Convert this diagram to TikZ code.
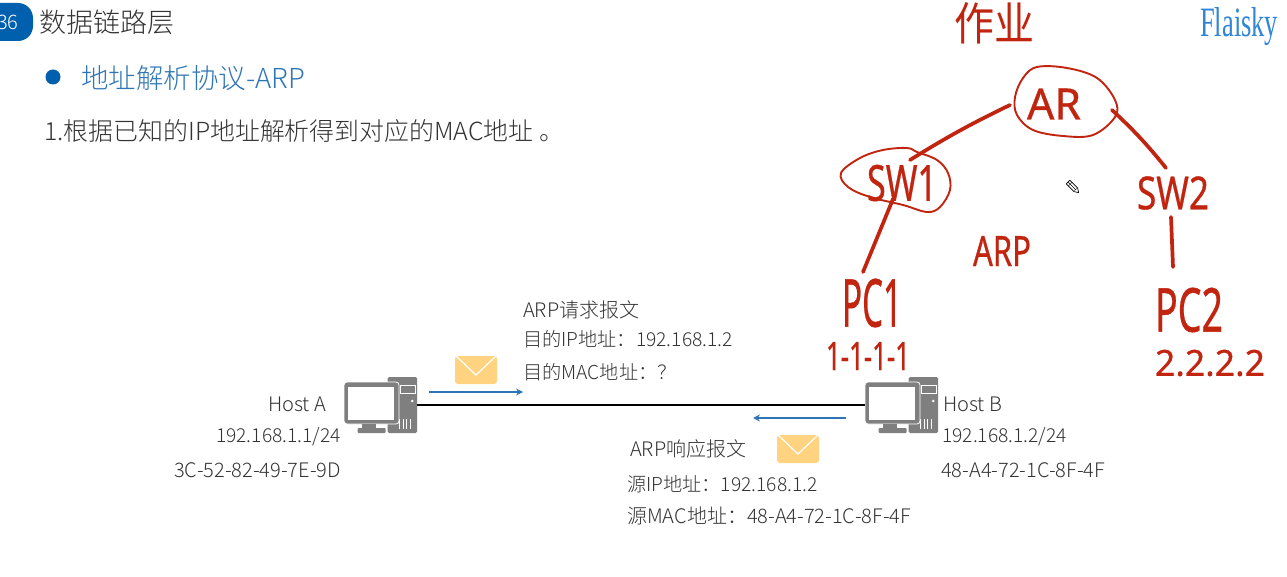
\documentclass[tikz,border=0pt]{standalone}
\usepackage{fontspec}
\setmainfont{Noto Sans CJK SC}[UprightFont={* Light}]
\newfontfamily\handfont{Noto Sans}[FakeBold=0.7]
\newfontfamily\handcjk{Noto Sans CJK SC}
\newfontfamily\logofont{Liberation Serif}
\usetikzlibrary{arrows.meta}
\definecolor{inkred}{HTML}{C1240F}
\definecolor{slideblue}{HTML}{0060AD}
\definecolor{linkblue}{HTML}{2E75B6}
\definecolor{logoblue}{HTML}{2F86D8}
\definecolor{bodygray}{HTML}{333333}
\definecolor{icongray}{HTML}{7F7F7F}
\definecolor{mailyellow}{HTML}{FFD37F}
\newcommand{\pxfont}[1]{\fontsize{#1}{#1}\selectfont}
\newcommand{\hand}[3]{\resizebox{#1pt}{#2pt}{\handfont #3}}
\tikzset{
  x=1pt,y=-1pt,
  body/.style={text=bodygray,font=\pxfont{19.2},inner sep=0pt,anchor=west},
  bodylg/.style={body,font=\pxfont{20}},
  bodyr/.style={body,anchor=east},
  handtxt/.style={text=inkred,inner sep=0pt},
  handline/.style={draw=inkred,line width=3.7pt,line cap=round,line join=round},
  handloop/.style={draw=inkred,line width=1.9pt,line join=round},
  flow/.style={draw=linkblue,line width=1.2pt,-{Stealth[length=7pt,width=7pt,inset=2.5pt]}},
  hostbox/.style={inner sep=0pt,minimum width=73pt,minimum height=56pt},
  pics/computer/.style={code={
    \fill[icongray,rounded corners=1.5pt] (7,-28) rectangle (36.5,28);
    \draw[white,line width=.7pt] (19.5,-20) rectangle (34.5,-12);
    \fill[white] (31.8,-4) circle (1.4);
    \foreach \vx in {19,22.5,26,29.5}{\draw[white,line width=.8pt] (\vx,14) -- (\vx,24);}
    \fill[icongray,rounded corners=3pt,draw=white,line width=.8pt] (-36.5,-23) rectangle (18.5,19);
    \fill[white] (-32.5,-18) rectangle (13.5,15);
    \fill[icongray] (-18.5,19) rectangle (-5,23);
    \fill[icongray,rounded corners=1pt] (-23,23) rectangle (5,28);
  }},
  pics/mail/.style={code={
    \fill[mailyellow,rounded corners=3pt] (-21,-14) -- (21,-14) -- (21,14) -- (-21,14) -- cycle;
    \draw[white,line width=1.2pt] (-20,-14) -- (0,5) -- (20,-14);
  }}
}
\begin{document}
\begin{tikzpicture}
\useasboundingbox (0,0) rectangle (1287,577);
\clip (0,0) rectangle (1287,577);
\fill[white] (0,0) rectangle (1287,577);

% header
\fill[slideblue,rounded corners=15pt] (-30,3) rectangle (33,41);
\node[text=white,font=\pxfont{20},inner sep=0pt] (num) at (8,22) {36};
\node[body,font=\pxfont{27}] (title) at (39,22) {数据链路层};
\fill[slideblue] (53,77) circle (7.5);
\node[body,text=linkblue,font=\pxfont{27.5}] (sub) at (81,78) {地址解析协议-ARP};
\node[body,font=\pxfont{24.9}] (line1) at (44,131) {1.根据已知的IP地址解析得到对应的MAC地址 。};
\node[text=logoblue,inner sep=0pt,anchor=west] (logo) at (1200,27) {\resizebox{78pt}{29pt}{\logofont Flaisky}};

% hosts
\node[hostbox] (hostA) at (380.5,405) {};
\node[hostbox] (hostB) at (901.5,405) {};
\pic at (hostA.center) {computer};
\pic at (hostB.center) {computer};
\draw[black,line width=1.2pt] (hostA.east) -- (hostB.west);

\node[bodylg] (hostAname) at (268,404) {Host A};
\node[bodyr] (ipA) at (341,437) {192.168.1.1/24};
\node[bodylg,anchor=east] (macA) at (341,470) {3C-52-82-49-7E-9D};
\node[bodylg] (hostBname) at (943,404) {Host B};
\node[body] (ipB) at (942,437) {192.168.1.2/24};
\node[bodylg] (macB) at (941,470) {48-A4-72-1C-8F-4F};

% messages
\node[bodylg] (reqT) at (523,310) {ARP请求报文};
\node[body] (req1) at (523,339) {目的IP地址：192.168.1.2};
\node[body] (req2) at (523,372) {目的MAC地址：？};
\node[bodylg] (repT) at (630,449) {ARP响应报文};
\node[body] (rep1) at (627,484) {源IP地址：192.168.1.2};
\node[bodylg] (rep2) at (627,516) {源MAC地址：48-A4-72-1C-8F-4F};
\pic at (476,370) {mail};
\pic at (798,449) {mail};
\coordinate (f1a) at (429,392);
\coordinate (f1b) at (523,392);
\coordinate (f2a) at (846,418);
\coordinate (f2b) at (753,418);
\draw[flow] (f1a) -- (f1b);
\draw[flow] (f2a) -- (f2b);

% handwriting
\node[handtxt] (hw) at (994,23) {\resizebox{80pt}{38pt}{\handcjk 作业}};
\node[handtxt] (ar) at (1054,104) {\hand{54}{31}{AR}};
\node[handtxt] (sw1) at (902,183) {\hand{70}{36}{SW1}};
\node[handtxt] (sw2) at (1173,193) {\hand{72}{33}{SW2}};
\node[handtxt] (pc1) at (872,303) {\hand{60}{48}{PC1}};
\node[handtxt] (pc2) at (1189,310) {\hand{68}{44}{PC2}};
\node[handtxt] (arp) at (1002,251) {\hand{58}{30}{ARP}};
\node[handtxt] (ip1) at (868,356) {\hand{84}{28}{1-1-1-1}};
\node[handtxt] (ip2) at (1210,363) {\hand{110}{26}{2.2.2.2}};

\draw[handloop] plot[smooth cycle,tension=.6] coordinates {(1037,67) (1067,68) (1097,78) (1115,100) (1115,117) (1093,135) (1063,136) (1033,130) (1017,115) (1015,97) (1023,78)};
\draw[handloop] plot[smooth cycle,tension=.6] coordinates {(907,148) (883,150) (860,158) (841,173) (848,187) (870,197) (903,205) (927,212) (940,207) (950,190) (948,173) (937,160) (917,152)};

\coordinate (arW) at (1010,105);
\coordinate (swN) at (910,160);
\coordinate (swS) at (893,199);
\coordinate (pc1N) at (863,272);
\coordinate (arE) at (1112,110);
\coordinate (sw2N) at (1166,168);
\coordinate (sw2S) at (1171,217);
\coordinate (pc2N) at (1173,267);
\draw[handline] (arW) to[bend right=3] (swN);
\draw[handline] (swS) -- (pc1N);
\draw[handline] (arE) to[bend left=4] (sw2N);
\draw[handline] (sw2S) -- (pc2N);

% pencil cursor
\begin{scope}[shift={(1073,187)},rotate=-45]
\draw[black,line width=.7pt,fill=white] (-7,-2.5) rectangle (4,2.5);
\draw[black,line width=.7pt,fill=white] (4,-2.5) -- (8,0) -- (4,2.5);
\draw[black,line width=.5pt] (-4,-2.5) -- (-4,2.5) (-7,0) -- (4,0);
\end{scope}
\end{tikzpicture}
\end{document}
